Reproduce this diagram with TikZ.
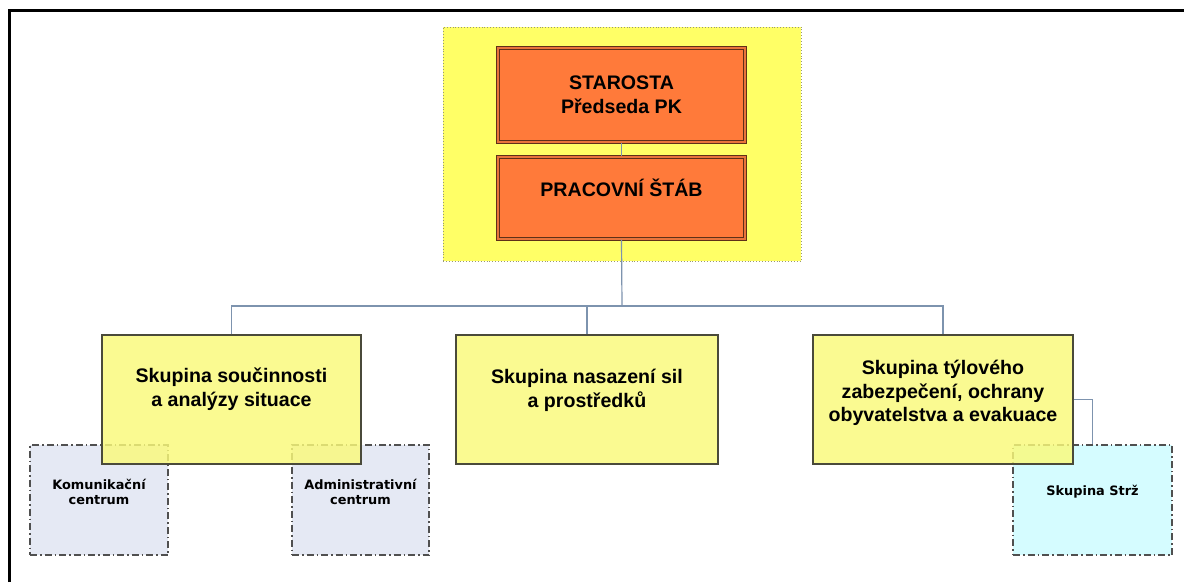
\documentclass[tikz,border=0pt]{standalone}
\usepackage{fontspec}
\setmainfont{Liberation Sans}
\newfontfamily\verd{DejaVu Sans}
\definecolor{connc}{HTML}{7D93AE}
\definecolor{brownc}{HTML}{5E3018}
\definecolor{orangec}{HTML}{FF7A3A}
\definecolor{orangeb}{HTML}{E8743B}
\definecolor{regionc}{HTML}{FFFF66}
\definecolor{regionb}{HTML}{9A9A70}
\definecolor{yellowc}{HTML}{FAFA7A}
\definecolor{yellowb}{HTML}{4A4A3A}
\definecolor{subgray}{HTML}{E5E9F4}
\definecolor{subcyan}{HTML}{D5FCFF}
\definecolor{subb}{HTML}{505050}
\begin{document}
\begin{tikzpicture}[x=1pt,y=-1pt,
  conn/.style={draw=connc, line width=1.2pt},
  region/.style={draw=regionb, dotted, line width=0.9pt, fill=regionc, minimum width=358pt, minimum height=234pt, inner sep=0pt},
  orangebox/.style={draw=brownc, double=orangeb, double distance=1.6pt, line width=1.1pt, fill=orangec, minimum width=247pt, inner sep=0pt},
  groupbox/.style={draw=yellowb, line width=1.4pt, fill=yellowc, fill opacity=0.82, minimum height=129pt, inner sep=0pt},
  subbox/.style={draw=subb, line width=1.2pt, dash pattern=on 7pt off 3pt on 1.5pt off 3pt, minimum height=110pt, inner sep=0pt},
  bigtxt/.style={font=\fontsize{19.6}{23.8}\selectfont\bfseries, align=center, text=black},
  smalltxt/.style={font=\verd\fontsize{12.9}{15.2}\selectfont\bfseries, align=center, text=black}
]
\useasboundingbox (0,0) rectangle (1184,582);
\fill[white] (0,0) rectangle (1184,582);
% frame
\draw[black, line width=3pt] (9,582) -- (9,10) -- (1184,10);

% top region
\node[region] (reg) at (622,144) {};
\node[orangebox, minimum height=94pt] (star) at (621.5,95) {};
\node[orangebox, minimum height=82pt] (prac) at (621.5,198) {};
\node[bigtxt] (startxt) at (621.5,95) {STAROSTA\\Předseda PK};
\node[bigtxt] (practxt) at (621.5,188) {PRACOVNÍ ŠTÁB};

% sub-boxes (drawn before groups)
\node[subbox, fill=subgray, minimum width=138pt] (kom) at (99,500) {};
\node[subbox, fill=subgray, minimum width=137pt] (adm) at (360.5,500) {};
\node[subbox, fill=subcyan, minimum width=159pt] (strz) at (1092.5,500) {};

% groups
\node[groupbox, minimum width=259pt] (g1) at (231.5,399.5) {};
\node[groupbox, minimum width=262pt] (g2) at (587,399.5) {};
\node[groupbox, minimum width=260pt] (g3) at (943,399.5) {};

% connectors
\coordinate (bus) at (622,306);
\draw[conn] (star.south) -- (prac.north);
\draw[conn] (prac.south) -- (bus);
\draw[conn] (g1.north) |- (bus) -| (g3.north);
\draw[conn] (g2.north) -- (g2.north |- bus);
\draw[conn] (g3.east) -| (strz.north);

% texts
\node[bigtxt] (g1t) at (231.5,389) {Skupina součinnosti\\a analýzy situace};
\node[bigtxt] (g2t) at (587,390) {Skupina nasazení sil\\a prostředků};
\node[bigtxt] (g3t) at (943,393) {Skupina týlového\\zabezpečení, ochrany\\obyvatelstva a evakuace};
\node[smalltxt] (komt) at (99,492) {Komunikační\\centrum};
\node[smalltxt] (admt) at (360.5,492) {Administrativní\\centrum};
\node[smalltxt] (strzt) at (1092.5,492) {Skupina Strž};
\end{tikzpicture}
\end{document}
